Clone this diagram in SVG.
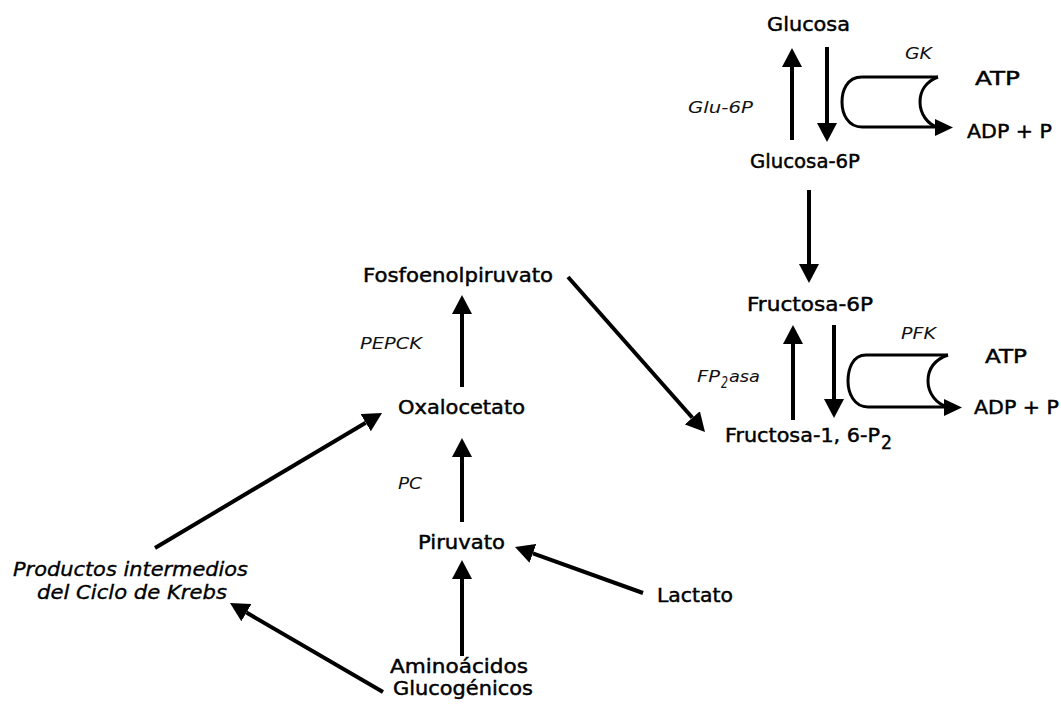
<svg xmlns="http://www.w3.org/2000/svg" width="1061" height="711" viewBox="0 0 1061 711">
  <style>
    .node { font-family: "DejaVu Sans", "Liberation Sans", sans-serif; font-size: 19.5px; fill: #000; stroke: #000; stroke-width: 0.45; }
    .enz { font-family: "DejaVu Sans", "Liberation Sans", sans-serif; font-size: 15.5px; font-style: italic; font-weight: 300; fill: #111; }
    .krebs { font-family: "DejaVu Sans", "Liberation Sans", sans-serif; font-size: 19.5px; font-style: italic; fill: #000; stroke: #000; stroke-width: 0.35; }
    .arrow { stroke: #000; stroke-width: 4; fill: none; marker-end: url(#head); }
    .bracket { stroke: #000; stroke-width: 3; fill: none; }
  </style>
  <defs>
    <marker id="head" markerUnits="userSpaceOnUse" markerWidth="20" markerHeight="20" refX="0" refY="10" orient="auto" viewBox="0 0 20 20">
      <path d="M0,0 L19,10 L0,20 z" fill="#000"/>
    </marker>
  </defs>
  <rect width="1061" height="711" fill="#fff"/>

  <!-- connectors -->
  <g id="connectors">
    <line class="arrow" x1="792" y1="140" x2="792" y2="67"/>
    <line class="arrow" x1="827" y1="47" x2="827" y2="123"/>
    <line class="arrow" x1="809" y1="190" x2="809" y2="264"/>
    <line class="arrow" x1="793" y1="420" x2="793" y2="344"/>
    <line class="arrow" x1="834" y1="325" x2="834" y2="399"/>
    <line class="arrow" x1="462" y1="387" x2="462" y2="314"/>
    <line class="arrow" x1="462" y1="522" x2="462" y2="457"/>
    <line class="arrow" x1="462" y1="656" x2="462" y2="579"/>
    <line class="arrow" x1="643" y1="593" x2="532.9" y2="553.4"/>
    <line class="arrow" x1="383" y1="692" x2="246.4" y2="612.6"/>
    <line class="arrow" x1="155" y1="548" x2="365.7" y2="422.7"/>
    <line class="arrow" x1="568" y1="277" x2="692.4" y2="417.8"/>

    <!-- ATP -> ADP + P coupling, hexokinase step -->
    <g id="gk-coupling">
      <path class="bracket" d="M938,77 H862 C846,77 842,92 842,102 C842,114 848,127 862,127 H936"/>
      <path class="bracket" d="M938,77 C925,82 920,92 920,102 C920,114 928,125 938,127"/>
      <path d="M935,119 L953,127.5 L935,136 z" fill="#000"/>
    </g>
    <!-- ATP -> ADP + P coupling, phosphofructokinase step -->
    <g id="pfk-coupling">
      <path class="bracket" d="M948,355 H866 C852,355 848,370 848,381 C848,393 854,407 868,407 H946"/>
      <path class="bracket" d="M948,355 C934,360 928,370 928,381 C928,393 936,404 948,407"/>
      <path d="M944,399 L962,407.5 L944,416 z" fill="#000"/>
    </g>
  </g>

  <!-- metabolites -->
  <g id="glucosa"><text class="node" x="767" y="31" textLength="83" lengthAdjust="spacingAndGlyphs">Glucosa</text></g>
  <g id="glucosa-6p"><text class="node" x="750" y="168" textLength="110" lengthAdjust="spacingAndGlyphs">Glucosa-6P</text></g>
  <g id="fructosa-6p"><text class="node" x="747" y="311" textLength="126" lengthAdjust="spacingAndGlyphs">Fructosa-6P</text></g>
  <g id="fructosa-16p2">
    <text class="node" x="725" y="442" textLength="155" lengthAdjust="spacingAndGlyphs">Fructosa-1, 6-P</text>
    <text class="node" x="881" y="449" font-size="15" textLength="11" lengthAdjust="spacingAndGlyphs">2</text>
  </g>
  <g id="fosfoenolpiruvato"><text class="node" x="363" y="282" textLength="190" lengthAdjust="spacingAndGlyphs">Fosfoenolpiruvato</text></g>
  <g id="oxalocetato"><text class="node" x="398" y="414" textLength="127" lengthAdjust="spacingAndGlyphs">Oxalocetato</text></g>
  <g id="piruvato"><text class="node" x="418" y="549" textLength="87" lengthAdjust="spacingAndGlyphs">Piruvato</text></g>
  <g id="lactato"><text class="node" x="657" y="602" textLength="76" lengthAdjust="spacingAndGlyphs">Lactato</text></g>
  <g id="aminoacidos">
    <text class="node" x="390" y="673" font-size="18.5" textLength="138" lengthAdjust="spacingAndGlyphs">Aminoácidos</text>
    <text class="node" x="393" y="695" font-size="18.5" textLength="140" lengthAdjust="spacingAndGlyphs">Glucogénicos</text>
  </g>
  <g id="krebs">
    <text class="krebs" x="13" y="576" textLength="235" lengthAdjust="spacingAndGlyphs">Productos intermedios</text>
    <text class="krebs" x="37" y="599" textLength="190" lengthAdjust="spacingAndGlyphs">del Ciclo de Krebs</text>
  </g>
  <g id="atp-1">
    <text class="node" x="975" y="85" textLength="45" lengthAdjust="spacingAndGlyphs">ATP</text>
    <text class="node" x="967" y="138" textLength="85" lengthAdjust="spacingAndGlyphs">ADP + P</text>
  </g>
  <g id="atp-2">
    <text class="node" x="985" y="363" textLength="42" lengthAdjust="spacingAndGlyphs">ATP</text>
    <text class="node" x="974" y="414" textLength="85" lengthAdjust="spacingAndGlyphs">ADP + P</text>
  </g>

  <!-- enzymes -->
  <g id="enzymes">
    <text class="enz" x="905" y="59" textLength="27" lengthAdjust="spacingAndGlyphs">GK</text>
    <text class="enz" x="688" y="113" textLength="65" lengthAdjust="spacingAndGlyphs">Glu-6P</text>
    <text class="enz" x="901" y="339" textLength="35" lengthAdjust="spacingAndGlyphs">PFK</text>
    <text class="enz" x="697" y="382" textLength="23" lengthAdjust="spacingAndGlyphs">FP</text>
    <text class="enz" x="721" y="388" font-size="11" textLength="7" lengthAdjust="spacingAndGlyphs">2</text>
    <text class="enz" x="729" y="382" textLength="31" lengthAdjust="spacingAndGlyphs">asa</text>
    <text class="enz" x="360" y="349" textLength="62" lengthAdjust="spacingAndGlyphs">PEPCK</text>
    <text class="enz" x="398" y="489" textLength="24" lengthAdjust="spacingAndGlyphs">PC</text>
  </g>
</svg>
